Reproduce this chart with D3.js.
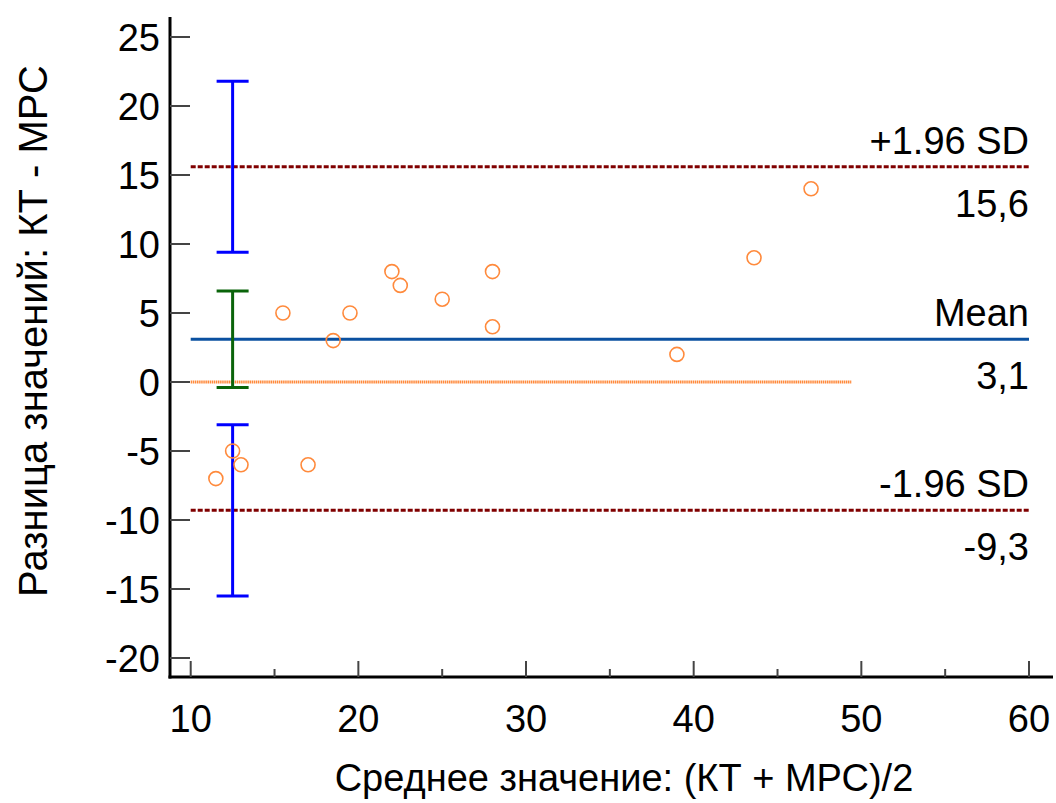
<!DOCTYPE html>
<html><head><meta charset="utf-8">
<script src="https://cdn.jsdelivr.net/npm/d3@7"></script>
<style>body{margin:0;background:#fff;} text{font-family:"Liberation Sans",Arial,sans-serif;}</style>
</head><body>
<svg id="chart" width="1056" height="803"></svg>
<script>
// Data
const pointsX = [15.5, 19.5, 18.5, 22, 22.5, 25, 28, 28, 47, 43.6, 39, 11.5, 12.5, 13, 17];
const pointsY = [5, 5, 3, 8, 7, 6, 8, 4, 14, 9, 2, -7, -5, -6, -6];
const xTicks = [10, 20, 30, 40, 50, 60];
const xMinorTicks = [15, 25, 35, 45, 55];
const yTicks = [-20, -15, -10, -5, 0, 5, 10, 15, 20, 25];
const refNames = ["+1.96 SD", "Mean", "-1.96 SD"];
const refValues = [15.6, 3.1, -9.3];
const refLabels = ["15,6", "3,1", "-9,3"];
const ciX = 12.5;
const ciLow = [9.4, -0.4, -15.5];
const ciHigh = [21.8, 6.6, -3.1];
const zeroLineEnd = 49.4;
const xLabel = "Среднее значение: (КТ + МРС)/2";
const yLabel = "Разница значений: КТ - МРС";

const svg = d3.select("#chart");
const x = d3.scaleLinear().domain([10, 60]).range([190.7, 1029]);
const y = d3.scaleLinear().domain([0, 25]).range([382, 37]);
const axisX0 = 170, axisY0 = 677;
const FS = 38;

const g = svg.append("g");

// zero line
g.append("line").attr("x1", x(10)).attr("x2", x(zeroLineEnd)).attr("y1", y(0)).attr("y2", y(0))
 .attr("stroke", "#ff8a3c").attr("stroke-width", 3).attr("stroke-dasharray", "1.5,0.6");

// reference lines
const refColors = ["#800000", "#0a50a0", "#800000"];
refValues.forEach((v, i) => {
  const ln = g.append("line").attr("x1", x(10)).attr("x2", x(60)).attr("y1", y(v)).attr("y2", y(v))
    .attr("stroke", refColors[i]).attr("stroke-width", 3);
  if (i !== 1) ln.attr("stroke-dasharray", "5,2");
  g.append("text").attr("x", x(60)).attr("y", y(v) - 13).attr("text-anchor", "end")
    .attr("font-size", FS).attr("fill", "#000").text(refNames[i]);
  g.append("text").attr("x", x(60)).attr("y", y(v) + 50).attr("text-anchor", "end")
    .attr("font-size", FS).attr("fill", "#000").text(refLabels[i]);
});

// CI bars
const ciColors = ["#0000ff", "#0a640a", "#0000ff"];
ciLow.forEach((lo, i) => {
  const c = ciColors[i], cx = x(ciX);
  g.append("line").attr("x1", cx).attr("x2", cx).attr("y1", y(lo)).attr("y2", y(ciHigh[i])).attr("stroke", c).attr("stroke-width", 3);
  [lo, ciHigh[i]].forEach(v => g.append("line").attr("x1", cx - 16).attr("x2", cx + 16).attr("y1", y(v)).attr("y2", y(v)).attr("stroke", c).attr("stroke-width", 3));
});

// points
g.selectAll("circle.pt").data(pointsX.map((d, i) => [d, pointsY[i]])).enter().append("circle")
  .attr("cx", d => x(d[0])).attr("cy", d => y(d[1])).attr("r", 7)
  .attr("fill", "none").attr("stroke", "#ff8a3c").attr("stroke-width", 1.6);

// axes
svg.append("line").attr("x1", axisX0).attr("x2", axisX0).attr("y1", 17).attr("y2", axisY0 + 1.5).attr("stroke", "#000").attr("stroke-width", 3);
svg.append("line").attr("x1", axisX0 - 1.5).attr("x2", 1053).attr("y1", axisY0).attr("y2", axisY0).attr("stroke", "#000").attr("stroke-width", 3);

yTicks.forEach(t => {
  svg.append("line").attr("x1", axisX0).attr("x2", axisX0 + 20).attr("y1", y(t)).attr("y2", y(t)).attr("stroke", "#444").attr("stroke-width", 2);
  svg.append("text").attr("x", 160).attr("y", y(t)).attr("dy", "0.36em").attr("text-anchor", "end")
    .attr("font-size", FS).attr("fill", "#000").text(t);
});
xTicks.forEach(t => {
  svg.append("line").attr("x1", x(t)).attr("x2", x(t)).attr("y1", axisY0).attr("y2", axisY0 - 16).attr("stroke", "#444").attr("stroke-width", 2);
  svg.append("text").attr("x", x(t)).attr("y", 732).attr("text-anchor", "middle")
    .attr("font-size", FS).attr("fill", "#000").text(t);
});
xMinorTicks.forEach(t => {
  svg.append("line").attr("x1", x(t)).attr("x2", x(t)).attr("y1", axisY0).attr("y2", axisY0 - 8).attr("stroke", "#444").attr("stroke-width", 2);
});

svg.append("text").attr("x", 624).attr("y", 791).attr("text-anchor", "middle").attr("font-size", FS).attr("fill", "#000").text(xLabel);
svg.append("text").attr("transform", "translate(47,331) rotate(-90)").attr("text-anchor", "middle").attr("font-size", 40).attr("fill", "#000").text(yLabel);
</script>
</body></html>
